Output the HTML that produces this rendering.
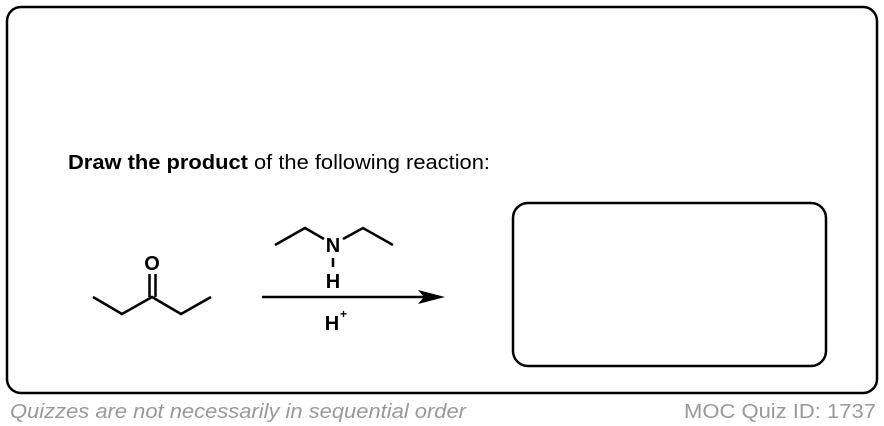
<!DOCTYPE html>
<html><head><meta charset="utf-8"><style>
html,body{margin:0;padding:0;background:#fff;width:884px;height:426px;overflow:hidden}
svg{display:block}
</style></head><body>
<svg width="884" height="426" viewBox="0 0 884 426" xmlns="http://www.w3.org/2000/svg" font-family="Liberation Sans, Arial, sans-serif">
<rect x="7" y="7" width="870" height="386" rx="14" fill="none" stroke="#000" stroke-width="2.5"/>
<rect x="513" y="203" width="313" height="163" rx="15" fill="none" stroke="#000" stroke-width="2.5"/>
<text x="68" y="169" font-size="20" textLength="422" lengthAdjust="spacingAndGlyphs"><tspan font-weight="bold">Draw the product</tspan> of the following reaction:</text>
<g stroke="#000" stroke-width="2.5" fill="none" stroke-linejoin="miter">
<polyline points="93,297 122,314 152,297 181,314 211,297"/>
<line x1="149.5" y1="297" x2="149.5" y2="274"/>
<line x1="155.5" y1="297" x2="155.5" y2="274"/>
<polyline points="275,245 305,228 324,239"/>
<polyline points="343,239 363,228 393,245"/>
<line x1="333" y1="258" x2="333" y2="267"/>
<line x1="262" y1="297" x2="432" y2="297"/>
</g>
<polygon points="445,297 418,290 424,297 418,304" fill="#000"/>
<g font-weight="bold" font-size="20" text-anchor="middle">
<text x="152" y="270">O</text>
<text x="333" y="252">N</text>
<text x="333" y="288">H</text>
<text x="332" y="330">H</text>
</g>
<text x="340" y="318" font-size="12" font-weight="bold">+</text>
<text x="10" y="418" font-size="20" font-style="italic" fill="#999" textLength="456" lengthAdjust="spacingAndGlyphs">Quizzes are not necessarily in sequential order</text>
<text x="684" y="418" font-size="20" fill="#999" textLength="192" lengthAdjust="spacingAndGlyphs">MOC Quiz ID: 1737</text>
</svg>
</body></html>
